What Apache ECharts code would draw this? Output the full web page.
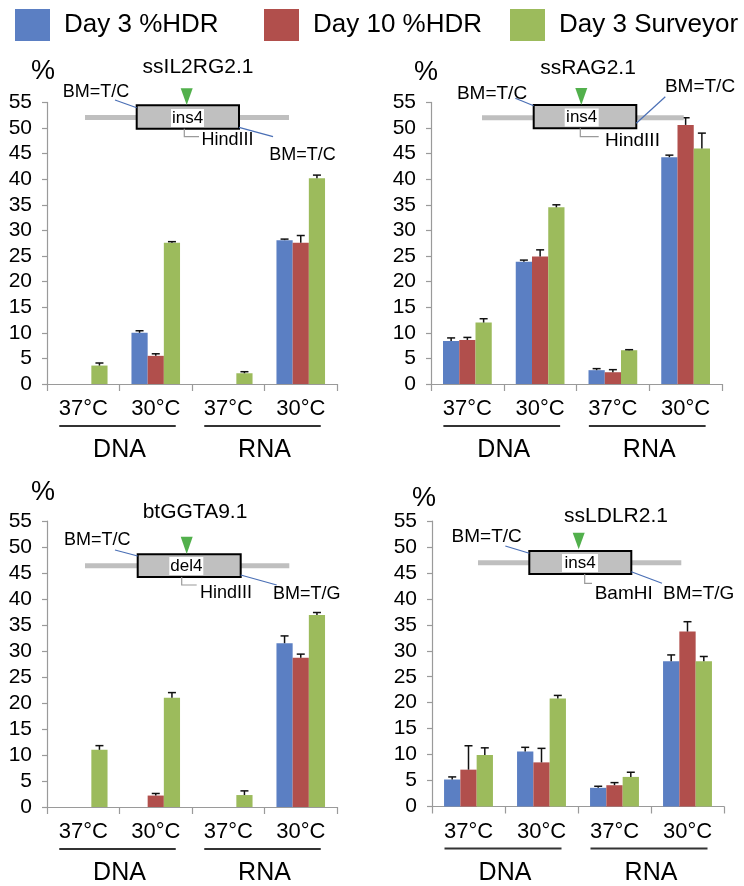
<!DOCTYPE html>
<html><head><meta charset="utf-8">
<script src="https://cdn.jsdelivr.net/npm/echarts@6/dist/echarts.min.js"></script>
<style>html,body{margin:0;padding:0;background:#fff}#c{width:744px;height:886px}</style>
</head><body><div id="c"></div>
<script>
// ---------- data ----------
const categories = ['37°C', '30°C', '37°C', '30°C'];
const groups = ['DNA', 'RNA'];
const seriesNames = ['Day 3 %HDR', 'Day 10 %HDR', 'Day 3 Surveyor'];
const panelTitles = ['ssIL2RG2.1', 'ssRAG2.1', 'btGGTA9.1', 'ssLDLR2.1'];
const yMin = 0, yMax = 55, yStep = 5;

// ssIL2RG2.1
const il2rgHdr3 = [0, 10.0, 0, 28.1];
const il2rgHdr3Err = [null, 0.4, null, 0.2];
const il2rgHdr10 = [0, 5.5, 0, 27.6];
const il2rgHdr10Err = [null, 0.4, null, 1.4];
const il2rgSurv = [3.6, 27.6, 2.1, 40.2];
const il2rgSurvErr = [0.5, 0.2, 0.3, 0.6];

// ssRAG2.1
const rag2Hdr3 = [8.4, 23.9, 2.7, 44.3];
const rag2Hdr3Err = [0.6, 0.3, 0.3, 0.4];
const rag2Hdr10 = [8.6, 24.9, 2.3, 50.6];
const rag2Hdr10Err = [0.5, 1.3, 0.5, 1.4];
const rag2Surv = [12.0, 34.5, 6.6, 46.0];
const rag2SurvErr = [0.75, 0.5, 0.1, 3.0];

// btGGTA9.1
const ggtaHdr3 = [0, 0, 0, 31.5];
const ggtaHdr3Err = [null, null, null, 1.4];
const ggtaHdr10 = [0, 2.2, 0, 28.7];
const ggtaHdr10Err = [null, 0.4, null, 0.7];
const ggtaSurv = [11.0, 21.0, 2.3, 36.9];
const ggtaSurvErr = [0.8, 1.0, 0.8, 0.5];

// ssLDLR2.1
const ldlrHdr3 = [5.2, 10.6, 3.6, 28.0];
const ldlrHdr3Err = [0.5, 0.8, 0.3, 1.2];
const ldlrHdr10 = [7.1, 8.5, 4.1, 33.7];
const ldlrHdr10Err = [4.6, 2.7, 0.5, 1.9];
const ldlrSurv = [9.9, 20.8, 5.7, 28.0];
const ldlrSurvErr = [1.4, 0.6, 0.9, 0.9];

const panelValues = [
  [il2rgHdr3, il2rgHdr10, il2rgSurv],
  [rag2Hdr3, rag2Hdr10, rag2Surv],
  [ggtaHdr3, ggtaHdr10, ggtaSurv],
  [ldlrHdr3, ldlrHdr10, ldlrSurv]
];
const panelErrors = [
  [il2rgHdr3Err, il2rgHdr10Err, il2rgSurvErr],
  [rag2Hdr3Err, rag2Hdr10Err, rag2SurvErr],
  [ggtaHdr3Err, ggtaHdr10Err, ggtaSurvErr],
  [ldlrHdr3Err, ldlrHdr10Err, ldlrSurvErr]
];

// ---------- styles / layout ----------
const FONT = '"Liberation Sans", Arial, sans-serif';
const colors = ['#5b7fc3', '#b14f4c', '#9cbb5c'];
const CAT_GAP = 0.33;
const grids = [
  {left: 47, top: 102.4, width: 290, height: 281.6},
  {left: 431, top: 102.4, width: 291, height: 281.6},
  {left: 47, top: 521, width: 290, height: 286},
  {left: 432, top: 521, width: 292, height: 285.5}
];
const titlePos = [[198, 67], [588, 68.5], [195, 512.5], [616, 516]];
const pctPos = [[43, 72], [426, 73], [43, 493], [424, 499]];

const diagrams = [
  {line: [85, 289, 117.5], box: [136.7, 105.3, 102.3, 23.4], lab: [171, 109, 33, 18, 'ins4'], tri: [186.7, 88.3, 105],
   lt: ['BM=T/C', 96, 91.7], ll: [115, 100, 136.7, 107.7], rl: [239, 127.3, 273, 136.7], rt: ['BM=T/C', 302.5, 155],
   br: [184.3, 128.7, 136.7, 199], bt: ['HindIII', 201.5, 140.5], fs: 18},
  {line: [482, 683.7, 117.7], box: [533.7, 105, 102.6, 23.3], lab: [564.7, 108.5, 34, 18, 'ins4'], tri: [581.3, 88, 105],
   lt: ['BM=T/C', 492, 93.3], ll: [515.3, 98.3, 533.7, 105.7], rl: [636.3, 123.3, 665.3, 96.7], rt: ['BM=T/C', 700, 86.7],
   br: [580.3, 128.3, 136.7, 598.7], bt: ['HindIII', 605, 140.5], fs: 19},
  {line: [85, 289.3, 565.7], box: [137.7, 554.3, 103, 22.7], lab: [169.3, 557, 34, 18, 'del4'], tri: [186.7, 536.7, 554],
   lt: ['BM=T/C', 97.3, 540], ll: [115, 550, 137.7, 556], rl: [240.7, 575, 276.7, 585], rt: ['BM=T/G', 306.7, 594],
   br: [181.7, 577, 585, 196.7], bt: ['HindIII', 200, 593.5], fs: 18},
  {line: [478, 681.3, 562.7], box: [529.3, 551, 102, 23], lab: [562, 554, 36, 18, 'ins4'], tri: [578.7, 532.7, 549.3],
   lt: ['BM=T/C', 486.7, 536.7], ll: [505.3, 546, 529.3, 553.3], rl: [631.3, 571.7, 662, 583.3], rt: ['BM=T/G', 698.7, 593.3],
   br: [584.7, 574, 583.3, 592], bt: ['BamHI', 594.7, 593.3], fs: 19}
];

function txt(t, x, y, size, align, vAlign) {
  return {type: 'text', x: x, y: y, z: 20, silent: true,
    style: {text: t, fontSize: size, fontFamily: FONT, fill: '#000',
      textAlign: align || 'center', textVerticalAlign: vAlign || 'middle'}};
}

function diagramGraphics(d) {
  const out = [];
  out.push({type: 'line', z: 10, silent: true, shape: {x1: d.line[0], y1: d.line[2], x2: d.line[1], y2: d.line[2]},
    style: {stroke: '#bfbfbf', lineWidth: 5}});
  out.push({type: 'rect', z: 11, silent: true, shape: {x: d.box[0], y: d.box[1], width: d.box[2], height: d.box[3]},
    style: {fill: '#c0c0c0', stroke: '#000', lineWidth: 2}});
  out.push({type: 'rect', z: 12, silent: true, shape: {x: d.lab[0], y: d.lab[1], width: d.lab[2], height: d.lab[3]},
    style: {fill: '#fff'}});
  out.push(txt(d.lab[4], d.lab[0] + d.lab[2] / 2, d.lab[1] + d.lab[3] / 2, 17));
  out.push({type: 'polygon', z: 12, silent: true,
    shape: {points: [[d.tri[0] - 6, d.tri[1]], [d.tri[0] + 6, d.tri[1]], [d.tri[0], d.tri[2]]]},
    style: {fill: '#52b04c'}});
  out.push({type: 'line', z: 12, silent: true, shape: {x1: d.ll[0], y1: d.ll[1], x2: d.ll[2], y2: d.ll[3]},
    style: {stroke: '#4a6fb5', lineWidth: 1.2}});
  out.push({type: 'line', z: 12, silent: true, shape: {x1: d.rl[0], y1: d.rl[1], x2: d.rl[2], y2: d.rl[3]},
    style: {stroke: '#4a6fb5', lineWidth: 1.2}});
  out.push(txt(d.lt[0], d.lt[1], d.lt[2], d.fs));
  out.push(txt(d.rt[0], d.rt[1], d.rt[2], d.fs));
  out.push({type: 'polyline', z: 12, silent: true,
    shape: {points: [[d.br[0], d.br[1]], [d.br[0], d.br[2]], [d.br[3], d.br[2]]]},
    style: {stroke: '#9a9a9a', lineWidth: 1.2, fill: null}});
  out.push(txt(d.bt[0], d.bt[1], d.bt[2], d.fs, 'left'));
  return out;
}

function errRender(sIdx) {
  return function (params, api) {
    const x = api.value(0), v = api.value(1), e = api.value(2);
    const band = api.size([1, 0])[0];
    const bw = band * (1 - CAT_GAP) / 3;
    const base = api.coord([x, v]);
    const top = api.coord([x, v + e]);
    const cx = base[0] + (sIdx - 1) * bw;
    const st = {stroke: '#111', lineWidth: 1.5};
    return {type: 'group', children: [
      {type: 'line', shape: {x1: cx, y1: base[1], x2: cx, y2: top[1]}, style: st},
      {type: 'line', shape: {x1: cx - 4, y1: top[1], x2: cx + 4, y2: top[1]}, style: st}
    ]};
  };
}

const xAxes = [], yAxes = [], series = [];
grids.forEach(function (g, p) {
  xAxes.push({type: 'category', gridIndex: p, data: categories, position: 'bottom',
    axisLine: {lineStyle: {color: '#9a9a9a', width: 1.2}},
    axisTick: {show: true, length: 7, inside: false, alignWithLabel: false, lineStyle: {color: '#9a9a9a', width: 1.2}},
    axisLabel: {fontSize: 22, fontFamily: FONT, color: '#000', margin: 14, interval: 0},
    splitLine: {show: false}});
  xAxes.push({type: 'category', gridIndex: p, data: groups, position: 'bottom',
    axisLine: {show: false}, axisTick: {show: false},
    axisLabel: {fontSize: 25, fontFamily: FONT, color: '#000', margin: 54, interval: 0},
    splitLine: {show: false}});
  yAxes.push({type: 'value', gridIndex: p, min: yMin, max: yMax, interval: yStep,
    axisLine: {show: true, lineStyle: {color: '#9a9a9a', width: 1.2}},
    axisTick: {show: true, length: 5, inside: false, lineStyle: {color: '#9a9a9a', width: 1.2}},
    axisLabel: {fontSize: 21, fontFamily: FONT, color: '#000', margin: 15},
    splitLine: {show: false}});
  for (let s = 0; s < 3; s++) {
    series.push({type: 'bar', name: seriesNames[s], xAxisIndex: 2 * p, yAxisIndex: p,
      data: panelValues[p][s], barGap: '0%', barCategoryGap: (CAT_GAP * 100) + '%',
      itemStyle: {color: colors[s]}, silent: true, z: 2});
  }
  for (let s = 0; s < 3; s++) {
    const errData = [];
    panelValues[p][s].forEach(function (v, i) {
      const e = panelErrors[p][s][i];
      if (e !== null && e !== undefined) errData.push([i, v, e]);
    });
    series.push({type: 'custom', name: seriesNames[s], xAxisIndex: 2 * p, yAxisIndex: p,
      renderItem: errRender(s), data: errData, encode: {x: 0, y: 1}, z: 5, silent: true});
  }
});

const staticGraphics = [];
panelTitles.forEach(function (t, p) {
  staticGraphics.push(txt(t, titlePos[p][0], titlePos[p][1], 21));
  staticGraphics.push(txt('%', pctPos[p][0], pctPos[p][1], 27));
});
diagrams.forEach(function (d) { diagramGraphics(d).forEach(function (g) { staticGraphics.push(g); }); });

const legendBase = {orient: 'horizontal', top: 4, itemWidth: 35, itemHeight: 32, icon: 'rect',
  textStyle: {fontSize: 26, fontFamily: FONT, color: '#000', padding: [0, 0, 0, 9]}, selectedMode: false};
const legendLeft = [10, 259, 505];

const chart = echarts.init(document.getElementById('c'), null, {renderer: 'canvas'});
chart.setOption({
  animation: false,
  backgroundColor: '#fff',
  grid: grids,
  xAxis: xAxes,
  yAxis: yAxes,
  legend: seriesNames.map(function (n, i) { return Object.assign({}, legendBase, {left: legendLeft[i], data: [n]}); }),
  series: series,
  graphic: staticGraphics
});

// underlines under the temperature labels, placed from the axes' own scales
const underlines = [];
grids.forEach(function (g, p) {
  const y0 = chart.convertToPixel({yAxisIndex: p}, 0);
  [[0, 1], [2, 3]].forEach(function (pair) {
    const xa = chart.convertToPixel({xAxisIndex: 2 * p}, pair[0]);
    const xb = chart.convertToPixel({xAxisIndex: 2 * p}, pair[1]);
    underlines.push({type: 'line', z: 10, silent: true,
      shape: {x1: xa - 24, y1: y0 + 42, x2: xb + 20, y2: y0 + 42},
      style: {stroke: '#333', lineWidth: 1.8}});
  });
});
chart.setOption({graphic: staticGraphics.concat(underlines)});
</script>
</body></html>
